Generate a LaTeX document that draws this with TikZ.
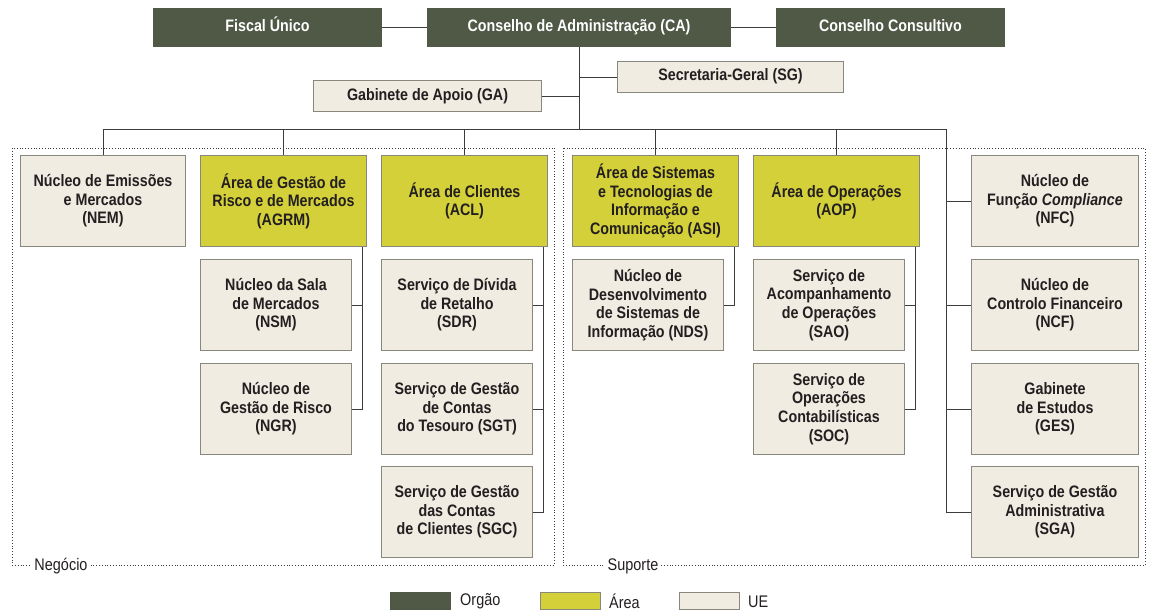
\documentclass[tikz,border=0pt]{standalone}
\usepackage{fontspec}
\setmainfont[FakeStretch=0.86]{Liberation Sans}
\usetikzlibrary{calc}
\definecolor{orgao}{RGB}{80,88,70}
\definecolor{area}{RGB}{212,208,58}
\definecolor{ue}{RGB}{240,236,226}
\definecolor{bord}{RGB}{135,135,125}
\definecolor{txt}{RGB}{35,31,32}
\definecolor{lin}{RGB}{60,60,60}
\tikzset{
  box/.style={draw=bord, line width=1pt, anchor=north west, inner sep=2pt, align=center,
    font=\fontsize{16.6}{18.6}\selectfont\bfseries, text=txt},
  orgbox/.style={box, fill=orgao, draw=orgao, text=white},
  areabox/.style={box, fill=area},
  uebox/.style={box, fill=ue},
  oneline/.style={text height=11.5pt, text depth=3.5pt},
  multi/.style={yshift=-1.5pt},
  conn/.style={draw=lin, line width=0.9pt},
  zone/.style={draw=lin, line width=0.8pt, dotted},
  zlabel/.style={fill=white, inner sep=3pt, font=\fontsize{16.8}{18}\selectfont, text=txt},
  leglabel/.style={anchor=west, inner sep=0pt, font=\fontsize{16.8}{18}\selectfont, text=txt},
}
\begin{document}
\begin{tikzpicture}[x=1pt,y=-1pt]
\useasboundingbox (0,0) rectangle (1150,610);
% zones
\draw[zone] (12,148) rectangle (554,565);
\draw[zone] (563,148) rectangle (1145,565);
\node[zlabel] (neg) at (61,566) {Negócio};
\node[zlabel] (sup) at (633,566) {Suporte};
% top
\node[orgbox, oneline, minimum width=228pt, minimum height=38pt] (FU) at (153,8) {Fiscal Único};
\node[orgbox, oneline, minimum width=303pt, minimum height=38pt] (CA) at (427,8) {Conselho de Administração (CA)};
\node[orgbox, oneline, minimum width=228pt, minimum height=38pt] (CC) at (776,8) {Conselho Consultivo};
\node[uebox, oneline, minimum width=226pt, minimum height=31pt] (SG) at (617,61) {Secretaria-Geral (SG)};
\node[uebox, oneline, minimum width=228pt, minimum height=31pt] (GA) at (313,80) {Gabinete de Apoio (GA)};
% column 1
\node[uebox, minimum width=165pt, minimum height=91pt] (NEM) at (20,155) {Núcleo de Emissões\\e Mercados\\(NEM)};
% column 2
\node[areabox, minimum width=166pt, minimum height=91pt] (AGRM) at (200,155) {Área de Gestão de\\Risco e de Mercados\\(AGRM)};
\node[uebox, minimum width=151pt, minimum height=91pt] (NSM) at (200,259) {Núcleo da Sala\\de Mercados\\(NSM)};
\node[uebox, minimum width=151pt, minimum height=91pt] (NGR) at (200,363) {Núcleo de\\Gestão de Risco\\(NGR)};
% column 3
\node[areabox, minimum width=166pt, minimum height=91pt] (ACL) at (381,155) {Área de Clientes\\(ACL)};
\node[uebox, minimum width=151pt, minimum height=91pt] (SDR) at (381,259) {Serviço de Dívida\\de Retalho\\(SDR)};
\node[uebox, minimum width=151pt, minimum height=91pt] (SGT) at (381,363) {Serviço de Gestão\\de Contas\\do Tesouro (SGT)};
\node[uebox, minimum width=151pt, minimum height=91pt] (SGC) at (381,466) {Serviço de Gestão\\das Contas\\de Clientes (SGC)};
% column 4
\node[areabox, minimum width=166pt, minimum height=91pt] (ASI) at (572,155) {Área de Sistemas\\e Tecnologias de\\Informação e\\Comunicação (ASI)};
\node[uebox, minimum width=151pt, minimum height=91pt] (NDS) at (572,259) {Núcleo de\\Desenvolvimento\\de Sistemas de\\Informação (NDS)};
% column 5
\node[areabox, minimum width=166pt, minimum height=91pt] (AOP) at (753,155) {Área de Operações\\(AOP)};
\node[uebox, minimum width=151pt, minimum height=91pt] (SAO) at (753,259) {Serviço de\\Acompanhamento\\de Operações\\(SAO)};
\node[uebox, minimum width=151pt, minimum height=91pt] (SOC) at (753,363) {Serviço de\\Operações\\Contabilísticas\\(SOC)};
% column 6
\node[uebox, minimum width=167pt, minimum height=91pt] (NFC) at (971,155) {Núcleo de\\Função \textit{Compliance}\\(NFC)};
\node[uebox, minimum width=167pt, minimum height=91pt] (NCF) at (971,259) {Núcleo de\\Controlo Financeiro\\(NCF)};
\node[uebox, minimum width=167pt, minimum height=91pt] (GES) at (971,363) {Gabinete\\de Estudos\\(GES)};
\node[uebox, minimum width=167pt, minimum height=91pt] (SGA) at (971,466) {Serviço de Gestão\\Administrativa\\(SGA)};
% connectors top
\draw[conn] (FU.east) -- (CA.west);
\draw[conn] (CA.east) -- (CC.west);
\coordinate (busL) at (102.5,129);
\coordinate (busR) at (946,129);
\draw[conn] (CA.south) -- (CA.south |- busL);
\draw[conn] (SG.west) -- (SG.west -| CA.south);
\draw[conn] (GA.east) -- (GA.east -| CA.south);
\draw[conn] (busL) -- (busR);
\draw[conn] (NEM.north) -- (NEM.north |- busL);
\draw[conn] (AGRM.north) -- (AGRM.north |- busL);
\draw[conn] (ACL.north) -- (ACL.north |- busL);
\draw[conn] (ASI.north) -- (ASI.north |- busL);
\draw[conn] (AOP.north) -- (AOP.north |- busL);
\draw[conn] (busR) |- (SGA.west);
\draw[conn] (NFC.west -| busR) -- (NFC.west);
\draw[conn] (NCF.west -| busR) -- (NCF.west);
\draw[conn] (GES.west -| busR) -- (GES.west);
% connectors columns
\coordinate (vA) at ([xshift=-5pt]AGRM.south east);
\draw[conn] (vA) |- (NGR.east);
\draw[conn] (NSM.east) -- (NSM.east -| vA);
\coordinate (vC) at ([xshift=-5pt]ACL.south east);
\draw[conn] (vC) |- (SGC.east);
\draw[conn] (SDR.east) -- (SDR.east -| vC);
\draw[conn] (SGT.east) -- (SGT.east -| vC);
\coordinate (vS) at ([xshift=-5pt]ASI.south east);
\draw[conn] (vS) |- (NDS.east);
\coordinate (vO) at ([xshift=-5pt]AOP.south east);
\draw[conn] (vO) |- (SOC.east);
\draw[conn] (SAO.east) -- (SAO.east -| vO);
% legend
\node[orgbox, minimum width=60pt, minimum height=17pt] (L1) at (390,592) {};
\node[leglabel] (T1) at (460,601.5) {Orgão};
\node[areabox, minimum width=60pt, minimum height=17pt] (L2) at (540,592) {};
\node[leglabel] (T2) at (609,601.5) {Área};
\node[uebox, minimum width=60pt, minimum height=17pt] (L3) at (679,592) {};
\node[leglabel] (T3) at (748,601.5) {UE};
\end{tikzpicture}
\end{document}
